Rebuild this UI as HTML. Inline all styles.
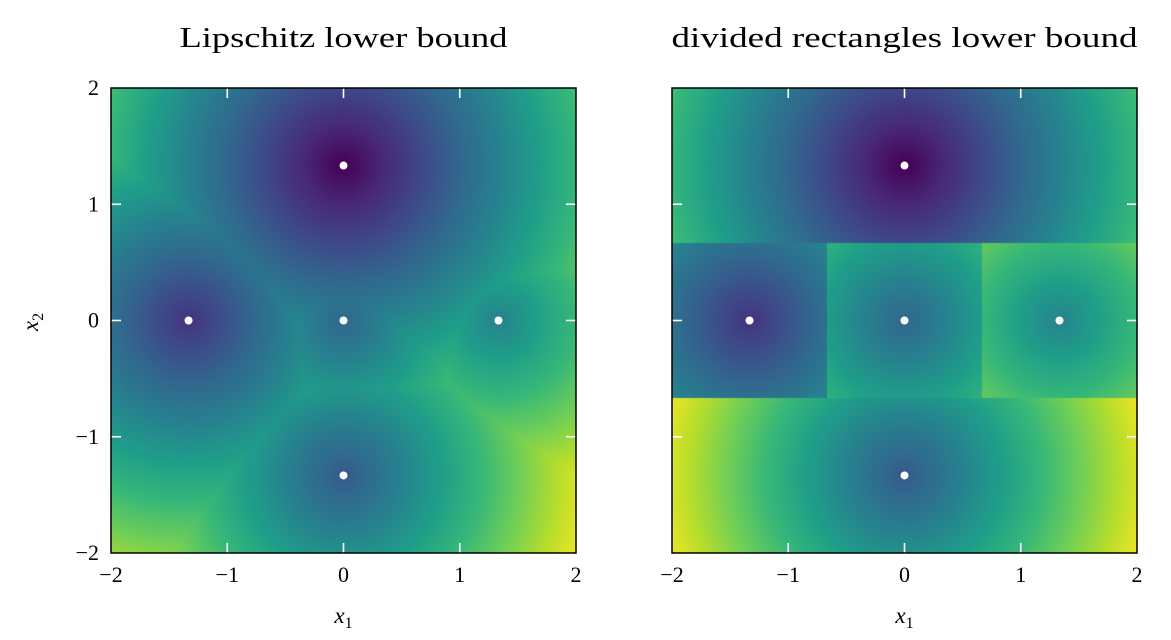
<!DOCTYPE html>
<html><head><meta charset="utf-8">
<style>
body{margin:0;background:#fff;width:1171px;height:640px;overflow:hidden;position:relative;font-family:"Liberation Serif",serif}
canvas{position:absolute}
svg{position:absolute;left:0;top:0}
</style></head><body>
<canvas id="c1" width="465" height="465" style="left:111px;top:88px"></canvas>
<canvas id="c2" width="465" height="465" style="left:672px;top:88px"></canvas>
<svg id="ov" width="1171" height="640"></svg>
<script>
// sample points and their (normalized) values
const ptX=[0,-1.333,0,1.333,0];
const ptY=[1.333,0,0,0,-1.333];
const ptVal=[0.0,0.15,0.33,0.45,0.28];
const lipL=[0.33];
// DIRECT rectangles (x0,x1,y0,y1) per sample point
const rectX0=[-2,-2,-0.667,0.667,-2];
const rectX1=[2,-0.667,0.667,2,2];
const rectY0=[0.667,-0.667,-0.667,-0.667,-2];
const rectY1=[2,0.667,0.667,0.667,-0.667];
const ticks=[-2,-1,0,1,2];
const tickLabels=["\u22122","\u22121","0","1","2"];

const V=[[68,1,84],[72,40,120],[62,73,137],[49,104,142],[38,130,142],[31,158,137],[53,183,121],[110,206,88],[181,222,43],[253,231,37]];
function vir(t){t=Math.max(0,Math.min(1,t))*(V.length-1);const i=Math.min(V.length-2,Math.floor(t)),f=t-i;
return V[i].map((c,k)=>c+(V[i+1][k]-c)*f);}
const W=465;
function sx(x){return (x+2)/4*W;}
function drawHeat(id,fn){const cv=document.getElementById(id),ctx=cv.getContext('2d');const im=ctx.createImageData(W,W);
for(let j=0;j<W;j++)for(let i=0;i<W;i++){const x=-2+4*(i+0.5)/W,y=2-4*(j+0.5)/W;const c=vir(fn(x,y));const o=(j*W+i)*4;
im.data[o]=c[0];im.data[o+1]=c[1];im.data[o+2]=c[2];im.data[o+3]=255;}
ctx.putImageData(im,0,0);}
drawHeat('c1',(x,y)=>{let g=1e9;for(let k=0;k<ptX.length;k++){g=Math.min(g,ptVal[k]+lipL[0]*Math.hypot(x-ptX[k],y-ptY[k]));}return g;});
drawHeat('c2',(x,y)=>{for(let k=0;k<ptX.length;k++){if(x>=rectX0[k]&&x<=rectX1[k]&&y>=rectY0[k]&&y<=rectY1[k])return ptVal[k]+lipL[0]*Math.hypot(x-ptX[k],y-ptY[k]);}return 1;});

const NS='http://www.w3.org/2000/svg',ov=document.getElementById('ov');
function el(t,a,txt){const e=document.createElementNS(NS,t);for(const k in a)e.setAttribute(k,a[k]);if(txt!==undefined)e.textContent=txt;ov.appendChild(e);return e;}
const panels=[{x:111,title:"Lipschitz lower bound",tw:328,ylab:true},{x:672,title:"divided rectangles lower bound",tw:466,ylab:false}];
panels.forEach((p,pi)=>{
  const L=p.x,T=88;
  const t=el('text',{x:L+W/2,y:47,'text-anchor':'middle','font-size':29,fill:'#000',textLength:p.tw,lengthAdjust:'spacingAndGlyphs'},p.title);
  
  
  ticks.forEach((v,i)=>{
    if(i>0&&i<4){
      const px=L+sx(v),py=T+sx(-v);
      [[px,T+W,px,T+W-10],[px,T,px,T+10],[L,py,L+10,py],[L+W,py,L+W-10,py]].forEach(s=>{
        const ln=el('line',{x1:s[0],y1:s[1],x2:s[2],y2:s[3],stroke:'#fff','stroke-width':1.6});
        
        
      });
    }
    const xl=el('text',{x:L+sx(v),y:T+W+29,'text-anchor':'middle','font-size':22},tickLabels[i]);
    
    
    if(p.ylab){const yl=el('text',{x:L-12,y:T+sx(-v)+7,'text-anchor':'end','font-size':22},tickLabels[i]);
      
      }
  });
  const fr=el('rect',{x:L,y:T,width:W,height:W,fill:'none',stroke:'#000','stroke-width':1.5});
  
  
  for(let k=0;k<ptX.length;k++){
    const d=el('circle',{cx:L+sx(ptX[k]),cy:T+sx(-ptY[k]),r:4,fill:'#fff'});
    
    
  }
  const xt=el('text',{x:L+W/2,y:623,'text-anchor':'middle','font-size':23,'font-style':'italic'});
  xt.innerHTML='x<tspan font-size="16" dy="5" font-style="normal">1</tspan>';
  
  
  if(p.ylab){const yt=el('text',{x:0,y:0,'text-anchor':'middle','font-size':23,'font-style':'italic',transform:'translate(38,322) rotate(-90)'});
    yt.innerHTML='x<tspan font-size="16" dy="5" font-style="normal">2</tspan>';
    
    }
});
</script>
</body></html>
